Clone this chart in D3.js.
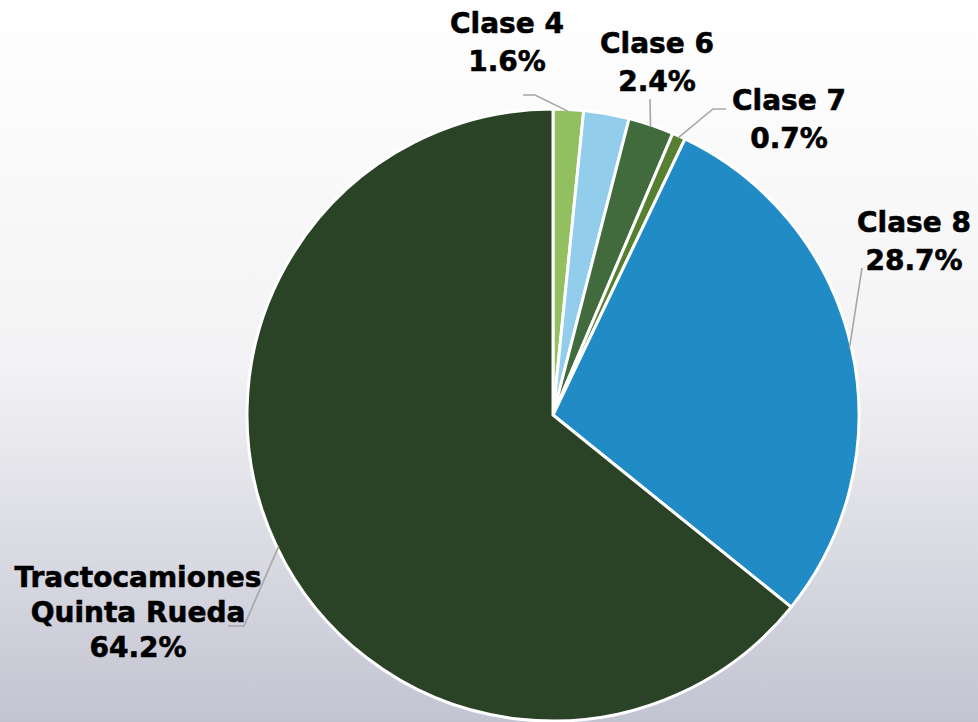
<!DOCTYPE html>
<html>
<head>
<meta charset="utf-8">
<script src="https://cdn.jsdelivr.net/npm/d3@7"></script>
<style>
  html, body { margin: 0; padding: 0; }
  body { width: 978px; height: 722px; overflow: hidden; }
  svg { display: block; }
</style>
</head>
<body>
<svg id="chart" width="978" height="722"></svg>
<script>
// ---- Data ----
const categories = ["Clase 4", "Clase 5", "Clase 6", "Clase 7", "Clase 8", "Tractocamiones Quinta Rueda"];
const values = [1.6, 2.4, 2.4, 0.7, 28.7, 64.2];
const showLabel = [true, false, true, true, true, true];
const colors = ["#92c060", "#92cdec", "#416b3d", "#567f31", "#218bc6", "#2a4226"];

// ---- Layout (label placement, not data) ----
const W = 978, H = 722;
const cx = 553, cy = 415, R = 306;
const labelLayout = {
  "Clase 4": { x: 507, y: 33, lines: ["Clase 4"], leader: [[523, 95], [535, 95]] },
  "Clase 6": { x: 657, y: 53, lines: ["Clase 6"], leader: [[650, 99], [650, 100]] },
  "Clase 7": { x: 789, y: 110, lines: ["Clase 7"], leader: [[726, 109], [713, 109]] },
  "Clase 8": { x: 914, y: 232, lines: ["Clase 8"], leader: [[862, 268], [862, 268]] },
  "Tractocamiones Quinta Rueda": { x: 138, y: 587, lines: ["Tractocamiones", "Quinta Rueda"], leader: [[228, 626], [244, 626]] }
};

const svg = d3.select("#chart");
const defs = svg.append("defs");
const grad = defs.append("linearGradient").attr("id", "bg").attr("x1", 0).attr("y1", 0).attr("x2", 0).attr("y2", 1);
grad.append("stop").attr("offset", "0%").attr("stop-color", "#ffffff");
grad.append("stop").attr("offset", "50%").attr("stop-color", "#f3f3f5");
grad.append("stop").attr("offset", "100%").attr("stop-color", "#c3c4d2");
svg.append("rect").attr("width", W).attr("height", H).attr("fill", "url(#bg)");

const data = categories.map((c, i) => ({ name: c, value: values[i], color: colors[i], show: showLabel[i] }));
const pie = d3.pie().value(d => d.value).sort(null);
const arcs = pie(data);
const arc = d3.arc().innerRadius(0).outerRadius(R);

const g = svg.append("g").attr("transform", `translate(${cx},${cy})`);
g.selectAll("path.slice").data(arcs).join("path")
  .attr("class", "slice")
  .attr("d", arc)
  .attr("fill", d => d.data.color)
  .attr("stroke", "#ffffff")
  .attr("stroke-width", 3)
  .attr("stroke-linejoin", "round");

const fmt = v => v.toFixed(1) + "%";
const fontFamily = "'DejaVu Sans', 'Noto Sans', sans-serif";
const fs = 28;

// leaders
arcs.filter(a => a.data.show).forEach(a => {
  const L = labelLayout[a.data.name];
  const mid = (a.startAngle + a.endAngle) / 2;
  const px = cx + Math.sin(mid) * (R - 2);
  const py = cy - Math.cos(mid) * (R - 2);
  const pts = [...L.leader, [px, py]];
  svg.append("path")
    .attr("d", d3.line()(pts))
    .attr("fill", "none")
    .attr("stroke", "#a6a6a6")
    .attr("stroke-width", 1.6);
});

// labels
arcs.filter(a => a.data.show).forEach(a => {
  const L = labelLayout[a.data.name];
  const t = svg.append("text")
    .attr("text-anchor", "middle")
    .attr("font-family", fontFamily)
    .attr("font-weight", "bold")
    .attr("font-size", fs)
    .attr("fill", "#000000")
    .attr("stroke", "#000000")
    .attr("stroke-width", 0.6);
  const lines = [...L.lines, fmt(a.data.value)];
  const step = L.lines.length > 1 ? 35 : 38;
  lines.forEach((s, i) => {
    t.append("tspan").attr("x", L.x).attr("y", L.y + i * step).text(s);
  });
});
</script>
</body>
</html>
